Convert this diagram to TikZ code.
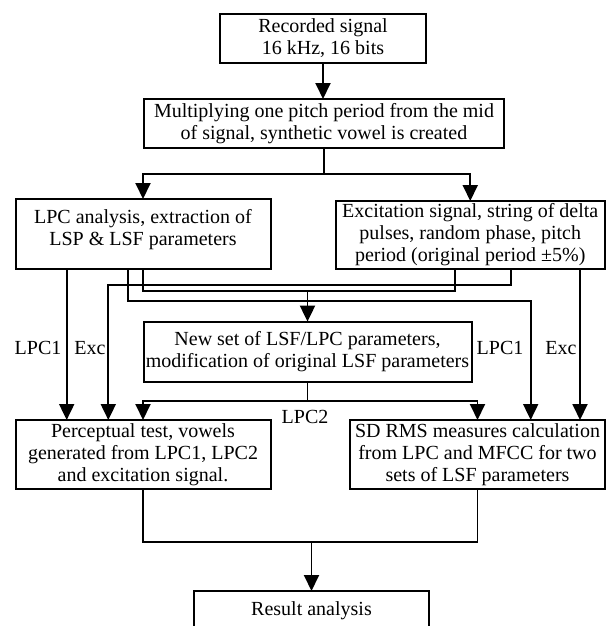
\documentclass[tikz,border=0pt]{standalone}
\usepackage{fontspec}
\setmainfont{Liberation Serif}
\usetikzlibrary{arrows.meta}
\begin{document}
\begin{tikzpicture}[x=1pt,y=-1pt,
  box/.style={draw, line width=2pt, inner sep=0pt, outer sep=0pt, align=center, font=\fontsize{20}{22}\selectfont},
  lbl/.style={inner sep=0pt, font=\fontsize{20}{22}\selectfont},
  conn/.style={line width=1.9pt},
  arr/.style={conn, -{Triangle[length=16pt,width=15pt]}}
]
\useasboundingbox (0,0) rectangle (606,626);
% boxes
\node[box, minimum width=206pt, minimum height=49pt] (rec) at (323,38.5) {Recorded signal\\16 kHz, 16 bits};
\node[box, minimum width=360pt, minimum height=49pt] (mult) at (324,123.5) {Multiplying one pitch period from the mid\\of signal, synthetic vowel is created};
\node[box, minimum width=255pt, minimum height=70pt, text depth=14pt] (lpc) at (143,234) {LPC analysis, extraction of\\LSP \& LSF parameters};
\node[box, minimum width=269.5pt, minimum height=68pt] (exc) at (470.25,235) {Excitation signal, string of delta\\pulses, random phase, pitch\\period (original period ±5\%)};
\node[box, minimum width=328pt, minimum height=60pt] (newset) at (307.5,351.6) {New set of LSF/LPC parameters,\\modification of original LSF parameters};
\node[box, minimum width=255pt, minimum height=69pt] (perc) at (143,454.5) {Perceptual test, vowels\\generated from LPC1, LPC2\\and excitation signal.};
\node[box, minimum width=255pt, minimum height=69pt] (sd) at (477.5,454.5) {SD RMS measures calculation\\from LPC and MFCC for two\\sets of LSF parameters};
\node[box, minimum width=235pt, minimum height=40pt] (res) at (311.5,611) {Result analysis};
% labels
\node[lbl] (l1) at (38,348) {LPC1};
\node[lbl] (e1) at (90,348) {Exc};
\node[lbl] (l2) at (500,348) {LPC1};
\node[lbl] (e2) at (561,348) {Exc};
\node[lbl] (lp2) at (305,417) {LPC2};
% helper coordinates
\coordinate (j1) at (324,174);
\coordinate (xa) at (66.7,0);
\coordinate (ea) at (510.7,284.7);
\coordinate (eb) at (108.3,284.7);
\coordinate (na) at (142.7,291);
\coordinate (nb) at (455,291);
\coordinate (nm) at (307.5,291);
\coordinate (la) at (127.7,300.7);
\coordinate (lb) at (530.7,300.7);
\coordinate (xr) at (580,0);
\coordinate (j2) at (307.5,401);
\coordinate (j3) at (311.5,541.7);
% connectors
\draw[arr] (rec.south) -- (rec.south |- mult.north);
\draw[conn] (mult.south) -- (j1);
\draw[arr] (j1) -| (lpc.north);
\draw[arr] (j1) -| (exc.north);
\draw[arr] (lpc.south -| xa) -- (perc.north -| xa);
\draw[arr] (exc.south -| ea) -- (ea) -- (eb) -- (perc.north -| eb);
\draw[conn] (lpc.south -| na) -- (na) -- (nb) -- (exc.south -| nb);
\draw[arr] (nm) -- (newset.north);
\draw[arr] (lpc.south -| la) -- (la) -- (lb) -- (sd.north -| lb);
\draw[arr] (exc.south -| xr) -- (sd.north -| xr);
\draw[conn] (newset.south) -- (j2);
\draw[arr] (j2) -| (perc.north);
\draw[arr] (j2) -| (sd.north);
\draw[conn] (perc.south) |- (j3);
\draw[conn] (sd.south) |- (j3);
\draw[arr] (j3) -- (res.north);
\end{tikzpicture}
\end{document}
